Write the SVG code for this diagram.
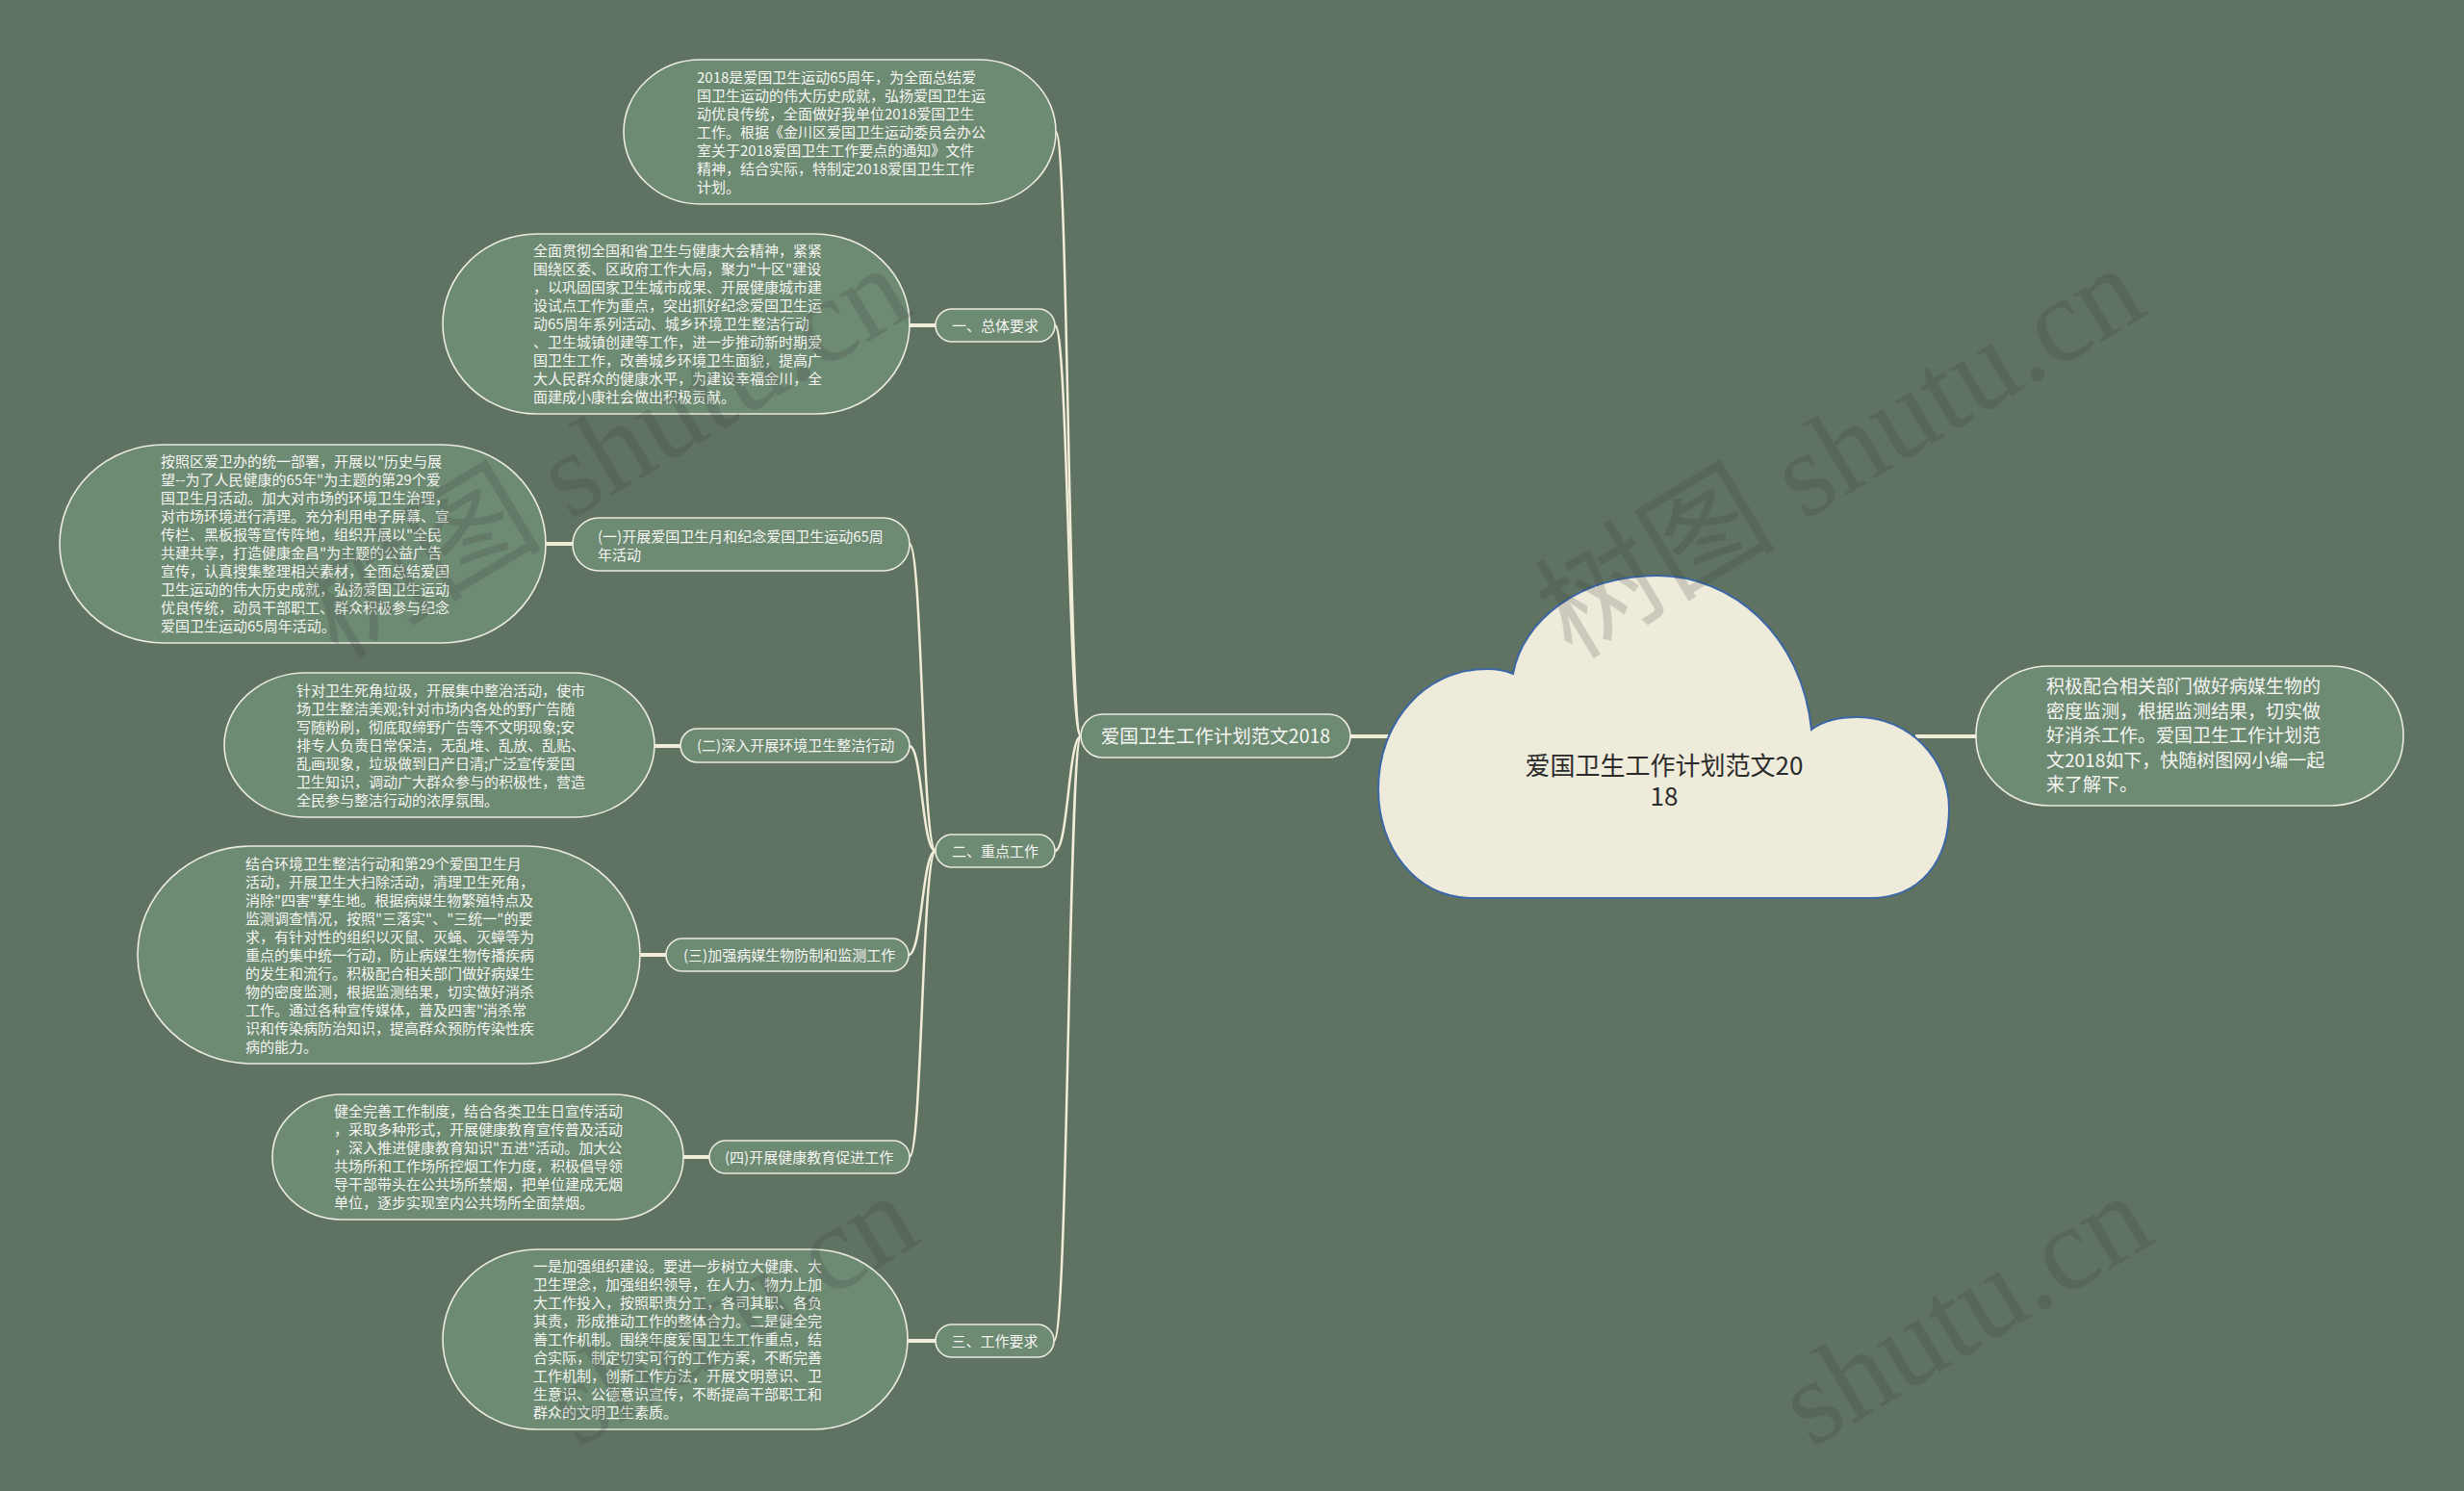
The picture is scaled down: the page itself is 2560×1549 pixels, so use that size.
<svg xmlns="http://www.w3.org/2000/svg" width="2560" height="1549" viewBox="0 0 2560 1549">
<style>
.bg{fill:#607362}
.box{fill:#6d8a73;stroke:#ecebe0;stroke-width:1.6}
.t{font-family:"Noto Sans CJK SC","Noto Sans",sans-serif;font-size:15px;fill:#f6f6f2}
.tm{font-family:"Noto Sans CJK SC","Noto Sans",sans-serif;font-size:19.5px;fill:#f6f6f2}
.tr{font-family:"Noto Sans CJK SC","Noto Sans",sans-serif;font-size:19px;fill:#f6f6f2}
.tc{font-family:"Noto Sans CJK SC","Noto Sans",sans-serif;font-size:26px;fill:#2b2b2b}
.cv{fill:none;stroke:#f1edd8;stroke-width:2.5}
.st{fill:none;stroke:#f1edd8;stroke-width:4}
.wm{font-family:"Liberation Serif","Noto Sans CJK SC",serif;font-size:125px;fill:#2e2e2e;opacity:0.17}
</style>
<rect class="bg" x="0" y="0" width="2560" height="1549"/>

<g id="connectors">
<path class="cv" d="M1123 765 C1110 765,1110 137,1097 137"/>
<path class="cv" d="M1123 765 C1110 765,1110 338,1096 338"/>
<path class="cv" d="M1123 765 C1110 765,1110 884,1096 884"/>
<path class="cv" d="M1123 765 C1110 765,1110 1393,1095 1393"/>
<path class="cv" d="M972 884 C958 884,958 565,945 565"/>
<path class="cv" d="M972 884 C958 884,958 775,945 775"/>
<path class="cv" d="M972 884 C958 884,958 992,944 992"/>
<path class="cv" d="M972 884 C958 884,958 1202,945 1202"/>
<path class="st" d="M972 338 H940"/>
<path class="st" d="M595 565 H562"/>
<path class="st" d="M707 775 H675"/>
<path class="st" d="M692 992 H660"/>
<path class="st" d="M737 1202 H705"/>
<path class="st" d="M972 1393 H938"/>
<path class="st" d="M1403 765 H1450"/>
<path class="st" d="M1990 765 H2053"/>
</g>

<g id="root">
<path d="M1530 933 C1470 933,1432 880,1432 820 C1432 750,1480 695,1545 695 C1555 695,1565 697,1572 700 C1582 645,1640 598,1722 598 C1800 598,1872 660,1882 758 C1895 748,1912 745,1930 745 C1985 745,2025 790,2025 840 C2025 895,1995 933,1943 933 Z" fill="#efebdb" stroke="#3b67a6" stroke-width="2"/>
<text class="tc" text-anchor="middle"><tspan x="1729" y="805">爱国卫生工作计划范文20</tspan><tspan x="1729" y="837">18</tspan></text>
</g>

<g id="summary">
<rect class="box" x="2053" y="692" width="444" height="145" rx="76" ry="72"/>
<text class="tr"><tspan x="2126" y="720">积极配合相关部门做好病媒生物的</tspan><tspan x="2126" y="745.5">密度监测，根据监测结果，切实做</tspan><tspan x="2126" y="771">好消杀工作。爱国卫生工作计划范</tspan><tspan x="2126" y="796.5">文2018如下，快随树图网小编一起</tspan><tspan x="2126" y="822">来了解下。</tspan></text>
</g>

<g id="branch">
<rect class="box" x="1123" y="742" width="280" height="45" rx="22.5"/>
<text class="tm" x="1263" y="772" text-anchor="middle">爱国卫生工作计划范文2018</text>
</g>

<g id="intro">
<rect class="box" x="648" y="62" width="449" height="150" rx="80" ry="75"/>
<text class="t"><tspan x="724" y="85.5">2018是爱国卫生运动65周年，为全面总结爱</tspan><tspan x="724" y="104.5">国卫生运动的伟大历史成就，弘扬爱国卫生运</tspan><tspan x="724" y="123.5">动优良传统，全面做好我单位2018爱国卫生</tspan><tspan x="724" y="142.5">工作。根据《金川区爱国卫生运动委员会办公</tspan><tspan x="724" y="161.5">室关于2018爱国卫生工作要点的通知》文件</tspan><tspan x="724" y="180.5">精神，结合实际，特制定2018爱国卫生工作</tspan><tspan x="724" y="199.5">计划。</tspan></text>
</g>

<g id="n1">
<rect class="box" x="972" y="321" width="124" height="34" rx="17"/>
<text class="t" x="1034" y="343.5" text-anchor="middle">一、总体要求</text>
</g>
<g id="n1-leaf">
<rect class="box" x="460" y="243" width="485" height="187" rx="98" ry="93.5"/>
<text class="t"><tspan x="554" y="266">全面贯彻全国和省卫生与健康大会精神，紧紧</tspan><tspan x="554" y="285">围绕区委、区政府工作大局，聚力"十区"建设</tspan><tspan x="554" y="304">，以巩固国家卫生城市成果、开展健康城市建</tspan><tspan x="554" y="323">设试点工作为重点，突出抓好纪念爱国卫生运</tspan><tspan x="554" y="342">动65周年系列活动、城乡环境卫生整洁行动</tspan><tspan x="554" y="361">、卫生城镇创建等工作，进一步推动新时期爱</tspan><tspan x="554" y="380">国卫生工作，改善城乡环境卫生面貌，提高广</tspan><tspan x="554" y="399">大人民群众的健康水平，为建设幸福金川，全</tspan><tspan x="554" y="418">面建成小康社会做出积极贡献。</tspan></text>
</g>

<g id="n2">
<rect class="box" x="972" y="867" width="124" height="34" rx="17"/>
<text class="t" x="1034" y="889.5" text-anchor="middle">二、重点工作</text>
</g>

<g id="n2-1">
<rect class="box" x="595" y="538" width="350" height="55" rx="27.5"/>
<text class="t"><tspan x="621" y="562.5">(一)开展爱国卫生月和纪念爱国卫生运动65周</tspan><tspan x="621" y="581.5">年活动</tspan></text>
</g>
<g id="n2-1-leaf">
<rect class="box" x="62" y="462" width="505" height="206" rx="108" ry="103"/>
<text class="t"><tspan x="167" y="485">按照区爱卫办的统一部署，开展以"历史与展</tspan><tspan x="167" y="504">望--为了人民健康的65年"为主题的第29个爱</tspan><tspan x="167" y="523">国卫生月活动。加大对市场的环境卫生治理，</tspan><tspan x="167" y="542">对市场环境进行清理。充分利用电子屏幕、宣</tspan><tspan x="167" y="561">传栏、黑板报等宣传阵地，组织开展以"全民</tspan><tspan x="167" y="580">共建共享，打造健康金昌"为主题的公益广告</tspan><tspan x="167" y="599">宣传，认真搜集整理相关素材，全面总结爱国</tspan><tspan x="167" y="618">卫生运动的伟大历史成就，弘扬爱国卫生运动</tspan><tspan x="167" y="637">优良传统，动员干部职工、群众积极参与纪念</tspan><tspan x="167" y="656">爱国卫生运动65周年活动。</tspan></text>
</g>

<g id="n2-2">
<rect class="box" x="707" y="757" width="238" height="35" rx="17.5"/>
<text class="t" x="724" y="780">(二)深入开展环境卫生整洁行动</text>
</g>
<g id="n2-2-leaf">
<rect class="box" x="233" y="699" width="447" height="150" rx="85" ry="75"/>
<text class="t"><tspan x="308" y="722.5">针对卫生死角垃圾，开展集中整治活动，使市</tspan><tspan x="308" y="741.5">场卫生整洁美观;针对市场内各处的野广告随</tspan><tspan x="308" y="760.5">写随粉刷，彻底取缔野广告等不文明现象;安</tspan><tspan x="308" y="779.5">排专人负责日常保洁，无乱堆、乱放、乱贴、</tspan><tspan x="308" y="798.5">乱画现象，垃圾做到日产日清;广泛宣传爱国</tspan><tspan x="308" y="817.5">卫生知识，调动广大群众参与的积极性，营造</tspan><tspan x="308" y="836.5">全民参与整洁行动的浓厚氛围。</tspan></text>
</g>

<g id="n2-3">
<rect class="box" x="692" y="975" width="252" height="34" rx="17"/>
<text class="t" x="710" y="997.5">(三)加强病媒生物防制和监测工作</text>
</g>
<g id="n2-3-leaf">
<rect class="box" x="143" y="879" width="522" height="226" rx="118" ry="113"/>
<text class="t"><tspan x="255" y="902.5">结合环境卫生整洁行动和第29个爱国卫生月</tspan><tspan x="255" y="921.5">活动，开展卫生大扫除活动，清理卫生死角，</tspan><tspan x="255" y="940.5">消除"四害"孳生地。根据病媒生物繁殖特点及</tspan><tspan x="255" y="959.5">监测调查情况，按照"三落实"、"三统一"的要</tspan><tspan x="255" y="978.5">求，有针对性的组织以灭鼠、灭蝇、灭蟑等为</tspan><tspan x="255" y="997.5">重点的集中统一行动，防止病媒生物传播疾病</tspan><tspan x="255" y="1016.5">的发生和流行。积极配合相关部门做好病媒生</tspan><tspan x="255" y="1035.5">物的密度监测，根据监测结果，切实做好消杀</tspan><tspan x="255" y="1054.5">工作。通过各种宣传媒体，普及四害"消杀常</tspan><tspan x="255" y="1073.5">识和传染病防治知识，提高群众预防传染性疾</tspan><tspan x="255" y="1092.5">病的能力。</tspan></text>
</g>

<g id="n2-4">
<rect class="box" x="737" y="1185" width="208" height="34" rx="17"/>
<text class="t" x="753" y="1207.5">(四)开展健康教育促进工作</text>
</g>
<g id="n2-4-leaf">
<rect class="box" x="283" y="1137" width="427" height="130" rx="72" ry="65"/>
<text class="t"><tspan x="347" y="1160">健全完善工作制度，结合各类卫生日宣传活动</tspan><tspan x="347" y="1179">，采取多种形式，开展健康教育宣传普及活动</tspan><tspan x="347" y="1198">，深入推进健康教育知识"五进"活动。加大公</tspan><tspan x="347" y="1217">共场所和工作场所控烟工作力度，积极倡导领</tspan><tspan x="347" y="1236">导干部带头在公共场所禁烟，把单位建成无烟</tspan><tspan x="347" y="1255">单位，逐步实现室内公共场所全面禁烟。</tspan></text>
</g>

<g id="n3">
<rect class="box" x="972" y="1376" width="123" height="34" rx="17"/>
<text class="t" x="1033.5" y="1398.5" text-anchor="middle">三、工作要求</text>
</g>
<g id="n3-leaf">
<rect class="box" x="460" y="1298" width="483" height="187" rx="98" ry="93.5"/>
<text class="t"><tspan x="554" y="1321">一是加强组织建设。要进一步树立大健康、大</tspan><tspan x="554" y="1340">卫生理念，加强组织领导，在人力、物力上加</tspan><tspan x="554" y="1359">大工作投入，按照职责分工，各司其职、各负</tspan><tspan x="554" y="1378">其责，形成推动工作的整体合力。二是健全完</tspan><tspan x="554" y="1397">善工作机制。围绕年度爱国卫生工作重点，结</tspan><tspan x="554" y="1416">合实际，制定切实可行的工作方案，不断完善</tspan><tspan x="554" y="1435">工作机制，创新工作方法，开展文明意识、卫</tspan><tspan x="554" y="1454">生意识、公德意识宣传，不断提高干部职工和</tspan><tspan x="554" y="1473">群众的文明卫生素质。</tspan></text>
</g>

<g id="watermarks">
<text class="wm" x="351" y="686" transform="rotate(-31 351 686)">树图 shutu.cn</text>
<text class="wm" x="1633" y="686" transform="rotate(-31 1633 686)">树图 shutu.cn</text>
<text class="wm" x="600" y="1505" transform="rotate(-31 600 1505)">shutu.cn</text>
<text class="wm" x="1882" y="1505" transform="rotate(-31 1882 1505)">shutu.cn</text>
</g>
</svg>
